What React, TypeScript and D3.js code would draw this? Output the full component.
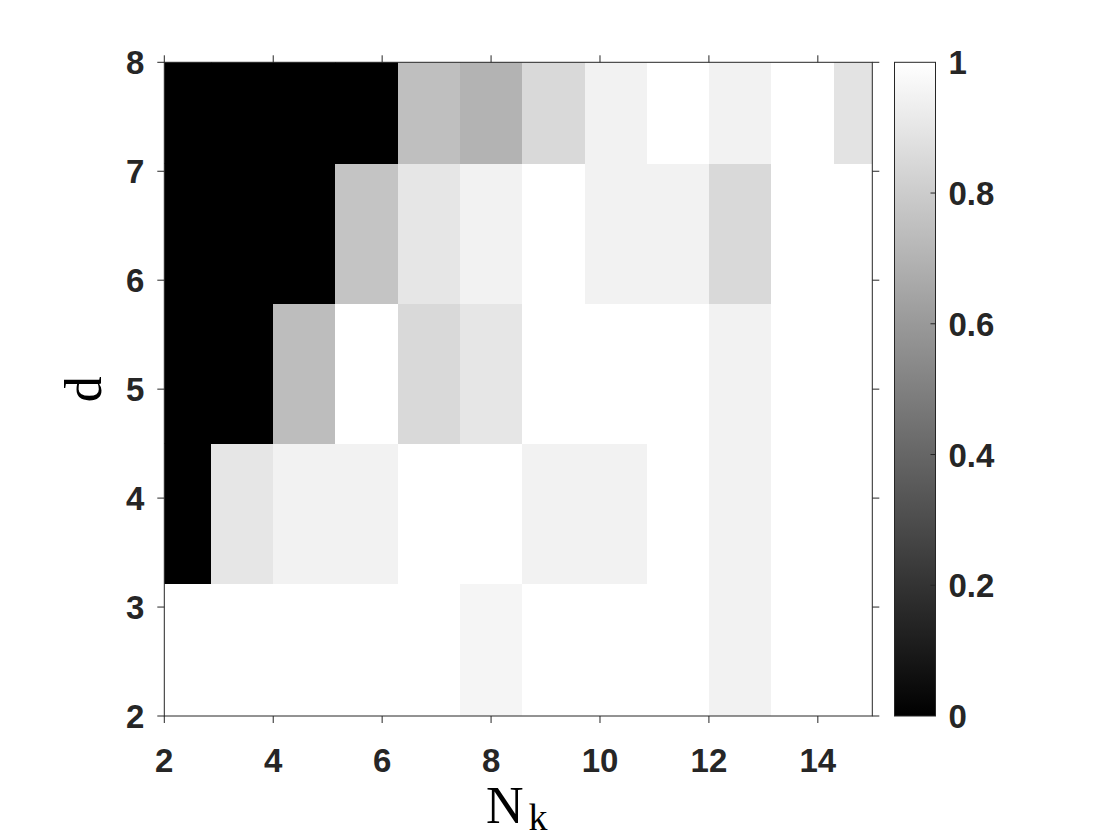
import React from 'react';
import * as d3 from 'd3';

// cell centres (data units)
const nkCenters = [2.29, 3.43, 4.57, 5.71, 6.86, 8.0, 9.14, 10.29, 11.43, 12.57, 13.71, 14.86];
const dCenters = [2.57, 3.86, 5.14, 6.43, 7.71];

// one row of values per d, bottom to top
const rowD257 = [1, 1, 1, 1, 1, 0.96, 1, 1, 1, 0.95, 1, 1];
const rowD386 = [0, 0.9, 0.95, 0.95, 1, 1, 0.95, 0.95, 1, 0.95, 1, 1];
const rowD514 = [0, 0, 0.74, 1, 0.85, 0.9, 1, 1, 1, 0.95, 1, 1];
const rowD643 = [0, 0, 0, 0.77, 0.9, 0.95, 1, 0.95, 0.95, 0.85, 1, 1];
const rowD771 = [0, 0, 0, 0, 0.75, 0.7, 0.85, 0.95, 1, 0.95, 1, 0.89];

const xTicks = [2, 4, 6, 8, 10, 12, 14];
const yTicks = [2, 3, 4, 5, 6, 7, 8];
const cbTicks = [0, 0.2, 0.4, 0.6, 0.8, 1];
const cbLabels = ['0', '0.2', '0.4', '0.6', '0.8', '1'];

const W = 1120;
const H = 840;
const margin = { left: 164.3, right: 872.3, top: 62.3, bottom: 716 };
const cb = { x0: 894.5, x1: 935.5 };
const axisColor = '#262626';
const tickFont = '"Liberation Sans", Arial, sans-serif';
const labelFont = '"Liberation Serif", "Times New Roman", serif';

export default function App() {
  const x = d3.scaleLinear().domain([2, 15]).range([margin.left, margin.right]);
  const y = d3.scaleLinear().domain([2, 8]).range([margin.bottom, margin.top]);
  const gray = d3.scaleLinear<string>().domain([0, 1]).range(['#000000', '#ffffff']);
  const cbY = d3.scaleLinear().domain([0, 1]).range([margin.bottom, margin.top]);

  const rows = [rowD257, rowD386, rowD514, rowD643, rowD771];
  const cw = (nkCenters[nkCenters.length - 1] - nkCenters[0]) / (nkCenters.length - 1);
  const ch = (dCenters[dCenters.length - 1] - dCenters[0]) / (dCenters.length - 1);

  const cells: { key: string; x: number; y: number; w: number; h: number; fill: string }[] = [];
  rows.forEach((row, i) => {
    row.forEach((v, j) => {
      const x0 = x(nkCenters[j] - cw / 2);
      const x1 = x(nkCenters[j] + cw / 2);
      const y0 = y(dCenters[i] + ch / 2);
      const y1 = y(dCenters[i] - ch / 2);
      cells.push({ key: `${i}-${j}`, x: x0, y: y0, w: x1 - x0, h: y1 - y0, fill: gray(v) });
    });
  });

  const tickLen = 7;

  return (
    <svg width={W} height={H} style={{ position: 'absolute', left: 0, top: 0, background: '#fff' }}>
      <defs>
        <clipPath id="plot-clip">
          <rect x={margin.left} y={margin.top} width={margin.right - margin.left} height={margin.bottom - margin.top} />
        </clipPath>
        <linearGradient id="cb-grad" x1="0" y1="1" x2="0" y2="0">
          {d3.range(0, 1.0001, 0.1).map(t => (
            <stop key={t} offset={t} stopColor={gray(t)} />
          ))}
        </linearGradient>
      </defs>

      <rect x={0} y={0} width={W} height={H} fill="#fff" />

      {/* heatmap cells */}
      <g clipPath="url(#plot-clip)" shapeRendering="crispEdges">
        {cells.map(c => (
          <rect key={c.key} x={c.x} y={c.y} width={c.w + 0.5} height={c.h + 0.5} fill={c.fill} />
        ))}
      </g>

      {/* axes box */}
      <rect x={margin.left} y={margin.top} width={margin.right - margin.left} height={margin.bottom - margin.top}
        fill="none" stroke={axisColor} strokeWidth={1} />

      {/* x ticks, bottom and top */}
      {xTicks.map(t => (
        <g key={`xt${t}`}>
          <line x1={x(t)} x2={x(t)} y1={margin.bottom} y2={margin.bottom + tickLen} stroke={axisColor} />
          <line x1={x(t)} x2={x(t)} y1={margin.top} y2={margin.top - tickLen} stroke={axisColor} />
          <text x={x(t)} y={margin.bottom + 55.5} textAnchor="middle" fontFamily={tickFont}
            fontWeight="bold" fontSize={33} fill={axisColor}>{t}</text>
        </g>
      ))}

      {/* y ticks, left and right */}
      {yTicks.map(t => (
        <g key={`yt${t}`}>
          <line x1={margin.left} x2={margin.left - tickLen} y1={y(t)} y2={y(t)} stroke={axisColor} />
          <line x1={margin.right} x2={margin.right + tickLen} y1={y(t)} y2={y(t)} stroke={axisColor} />
          <text x={margin.left - 20} y={y(t) + 12} textAnchor="end" fontFamily={tickFont}
            fontWeight="bold" fontSize={33} fill={axisColor}>{t}</text>
        </g>
      ))}

      {/* axis labels */}
      <text transform={`translate(101, ${(margin.top + margin.bottom) / 2}) rotate(-90)`} textAnchor="middle"
        fontFamily={labelFont} fontSize={52} fill="#000">d</text>
      <text x={486} y={822.5} fontFamily={labelFont} fontSize={52} fill="#000">
        N<tspan x={528.5} y={830} fontSize={38}>k</tspan>
      </text>

      {/* colorbar */}
      <rect x={cb.x0} y={margin.top} width={cb.x1 - cb.x0} height={margin.bottom - margin.top} fill="url(#cb-grad)"
        stroke={axisColor} strokeWidth={1} />
      {cbTicks.map((t, i) => (
        <g key={`cb${t}`}>
          {t > 0 && t < 1 && (
            <line x1={cb.x1} x2={cb.x1 - 5} y1={cbY(t)} y2={cbY(t)} stroke={axisColor} />
          )}
          <text x={948.5} y={cbY(t) + 12} fontFamily={tickFont} fontWeight="bold" fontSize={33}
            fill={axisColor}>{cbLabels[i]}</text>
        </g>
      ))}
    </svg>
  );
}
